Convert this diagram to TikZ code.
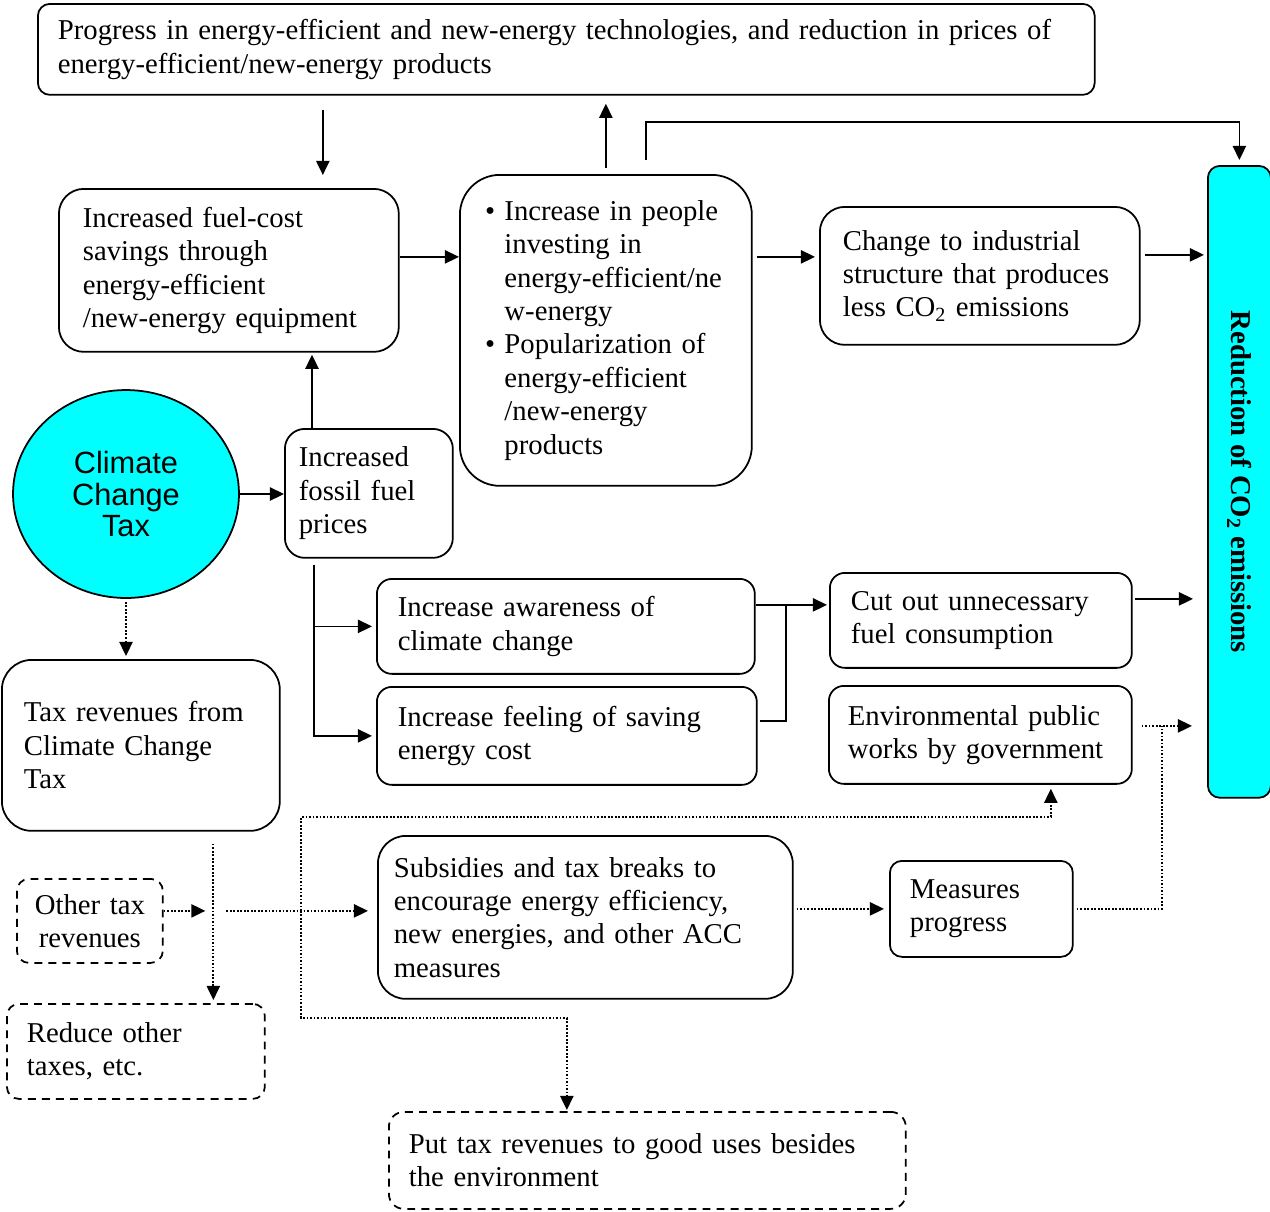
\documentclass[tikz,border=0pt]{standalone}
\usepackage{graphicx}
\usepackage{fontspec}
\setmainfont{Liberation Serif}
\newfontfamily\taxfont{Liberation Sans}
\usepackage{tikz}
\usetikzlibrary{arrows.meta,shapes.geometric}
\definecolor{aqua}{RGB}{0,255,255}

\begin{document}
\begin{tikzpicture}[
  x=0.02cm, y=-0.02cm,
  every node/.style={font=\fontsize{16.35}{19}\selectfont},
  box/.style={draw, line width=1pt, rounded corners=0.3cm, anchor=north west,
    align=left, inner xsep=0.42cm, inner ysep=0pt},
  dashbox/.style={box, dash pattern=on 4.5pt off 3.5pt},
  arr/.style={-{Triangle[length=8pt,width=7.5pt]}, line width=1pt},
  dotarr/.style={arr, densely dotted},
  dotline/.style={line width=1pt, densely dotted}
]
\useasboundingbox (0,0) rectangle (1270,1211);

\node[box, rounded corners=0.24cm, inner xsep=0.4cm, text width=20.34cm, minimum height=1.82cm] (top) at (37,3)
  {Progress in energy-efficient and new-energy technologies, and reduction in prices of\\energy-efficient/new-energy products};
\node[box, rounded corners=0.5cm, inner xsep=0.48cm, text width=5.84cm, minimum height=3.26cm] (fuel) at (58,188)
  {Increased fuel-cost\\savings through\\energy-efficient\\/new-energy equipment};
\node[box, rounded corners=0.8cm, inner xsep=0.4cm, text width=5.04cm, minimum height=6.22cm] (bullets) at (459,174)
  {\makebox[14pt][l]{\hspace{3pt}\textbullet}Increase in people\\
   \hspace*{14pt}investing in\\
   \hspace*{14pt}energy-efficient/ne\\
   \hspace*{14pt}w-energy\\
   \makebox[14pt][l]{\hspace{3pt}\textbullet}Popularization of\\
   \hspace*{14pt}energy-efficient\\
   \hspace*{14pt}/new-energy\\
   \hspace*{14pt}products};
\node[box, rounded corners=0.5cm, inner xsep=0.46cm, text width=5.48cm, minimum height=2.76cm] (change) at (819,206)
  {Change to industrial\\structure that produces\\less CO\textsubscript{2} emissions};
\node[box, fill=aqua, rounded corners=0.24cm, inner xsep=0pt, align=center, minimum width=1.26cm, minimum height=12.64cm,
  font=\fontsize{16.35}{19}\selectfont\bfseries] (red) at (1207,165)
  {\rotatebox{-90}{Reduction of CO\textsubscript{2} emissions}};

\node[ellipse, draw, line width=1pt, fill=aqua, minimum width=4.52cm, minimum height=4.16cm, align=center,
  font=\taxfont\fontsize{17.5}{18}\selectfont] (cct) at (126,494) {Climate\\Change\\Tax};
\node[box, rounded corners=0.4cm, inner xsep=0.28cm, text width=2.8cm, minimum height=2.58cm] (fossil) at (284,428)
  {Increased\\fossil fuel\\prices};

\node[box, text width=6.72cm, minimum height=1.9cm] (aware) at (376,578) {Increase awareness of\\climate change};
\node[box, text width=6.76cm, minimum height=1.96cm] (feel) at (376,686) {Increase feeling of saving\\energy cost};
\node[box, text width=5.2cm, minimum height=1.9cm] (cut) at (829,572) {Cut out unnecessary\\fuel consumption};
\node[box, inner xsep=0.38cm, text width=5.3cm, minimum height=1.96cm] (env) at (828,685)
  {Environmental public\\works by government};

\node[box, rounded corners=0.6cm, inner xsep=0.44cm, text width=4.68cm, minimum height=3.42cm] (taxrev) at (1,659)
  {Tax revenues from\\Climate Change\\Tax};
\node[dashbox, rounded corners=0.24cm, inner xsep=0.2cm, text width=2.52cm, align=center, minimum height=1.68cm] (other) at (16,878)
  {Other tax\\revenues};
\node[dashbox, rounded corners=0.24cm, inner xsep=0.4cm, text width=4.36cm, minimum height=1.9cm] (reduce) at (6,1003)
  {Reduce other\\taxes, etc.};
\node[box, rounded corners=0.56cm, inner xsep=0.32cm, text width=7.66cm, minimum height=3.26cm] (subs) at (377,835)
  {Subsidies and tax breaks to\\encourage energy efficiency,\\new energies, and other ACC\\measures};
\node[box, rounded corners=0.24cm, inner xsep=0.4cm, text width=2.86cm, minimum height=1.92cm] (measures) at (889,860)
  {Measures\\progress};
\node[dashbox, inner xsep=0.4cm, text width=9.54cm, minimum height=1.94cm] (good) at (388,1111)
  {Put tax revenues to good uses besides\\the environment};

\draw[arr, shorten <=0.28cm, shorten >=0.26cm] ([xshift=1.88cm]fuel.north |- top.south) -- ([xshift=1.88cm]fuel.north);
\draw[arr, shorten <=0.12cm, shorten >=0.16cm] (bullets.north) -- (bullets.north |- top.south);
\draw[arr, shorten <=0.28cm, shorten >=0.1cm] ([xshift=0.8cm]bullets.north) -- ++(0,-52) -| (red.north);
\draw[arr] ([yshift=0.27cm]fuel.east) -- ([yshift=0.27cm]fuel.east -| bullets.west);
\draw[arr, shorten <=0.08cm, shorten >=0.08cm] ([yshift=0.38cm]change.west -| bullets.east) -- ([yshift=0.38cm]change.west);
\draw[arr, shorten <=0.08cm, shorten >=0.06cm] ([yshift=0.42cm]change.east) -- ([yshift=0.42cm]change.east -| red.west);

\draw[arr] (cct.east) -- (fossil.west |- cct.east);
\draw[arr, shorten >=0.04cm] ([xshift=0.56cm]fossil.north west) -- ([xshift=0.56cm]fossil.north west |- fuel.south);
\draw[arr, shorten >=0.08cm] ([xshift=0.6cm,yshift=-0.12cm]fossil.south west) |- (aware.west);
\draw[arr, shorten >=0.08cm] ([xshift=0.6cm,yshift=-0.12cm]fossil.south west) |- (feel.west);
\draw[arr, shorten >=0.04cm] ([yshift=0.43cm]aware.east) -- ([yshift=0.43cm]aware.east -| cut.west);
\draw[line width=1pt, shorten <=0.04cm] ([yshift=0.3cm]feel.east) -| ([xshift=0.6cm,yshift=0.43cm]aware.east);
\draw[arr, shorten <=0.04cm, shorten >=0.28cm] ([yshift=0.43cm]cut.east) -- ([yshift=0.43cm]cut.east -| red.west);
\draw[dotarr, shorten <=0.18cm, shorten >=0.3cm] ([yshift=0.18cm]env.east) -- ([yshift=0.18cm]env.east -| red.west);
\draw[dotline, shorten <=0.06cm] (measures.east) -| ([xshift=0.58cm,yshift=0.18cm]env.east);
\draw[dotarr, shorten <=0.06cm, shorten >=0.1cm] (measures.west -| subs.east) -- (measures.west);

\draw[dotarr, shorten <=0.06cm, shorten >=0.06cm] (cct.south) -- (cct.south |- taxrev.north);
\coordinate (junc) at ([xshift=1.45cm]taxrev.south);
\coordinate (mid) at ([yshift=0.2cm]other.east -| junc);
\coordinate (split) at ([xshift=1.76cm]mid);
\draw[dotarr, shorten <=0.24cm, shorten >=0.06cm] (junc) -- (junc |- reduce.north);
\draw[dotarr, shorten >=0.16cm] ([yshift=0.2cm]other.east) -- (mid);
\draw[dotarr, shorten <=0.26cm, shorten >=0.18cm] (mid) -- (mid -| subs.west);
\draw[dotarr, shorten >=0.08cm] (split) |- ([xshift=1.41cm,yshift=-0.64cm]env.south) -- ([xshift=1.41cm]env.south);
\draw[dotarr, shorten >=0.02cm] (split) |- ([xshift=-1.61cm,yshift=1.86cm]good.north) -- ([xshift=-1.61cm]good.north);
\end{tikzpicture}
\end{document}
